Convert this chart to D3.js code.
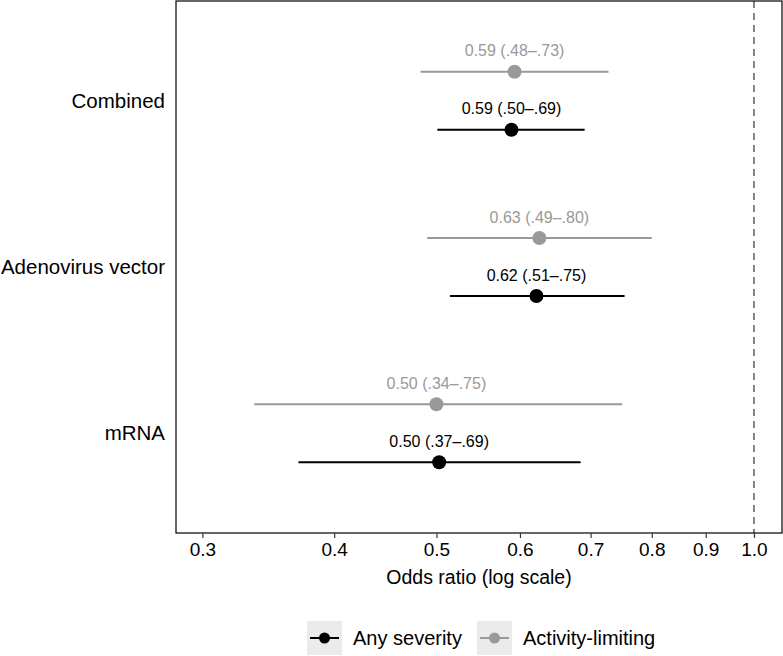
<!DOCTYPE html>
<html><head><meta charset="utf-8">
<script src="https://cdn.jsdelivr.net/npm/d3@7"></script>
<style>
body{margin:0;background:#fff;}
text{font-family:"Liberation Sans",Arial,Helvetica,sans-serif;}
</style></head>
<body><svg id="c" width="783" height="656"></svg>
<script>
const categories = ["Combined", "Adenovirus vector", "mRNA"];
const seriesNames = ["Any severity", "Activity-limiting"];
const seriesColors = ["#000000", "#999999"];
// Any severity
const anyEst = [0.589, 0.622, 0.503];
const anyLow = [0.501, 0.515, 0.37];
const anyHigh = [0.691, 0.754, 0.685];
const anyLabels = ["0.59 (.50\u2013.69)", "0.62 (.51\u2013.75)", "0.50 (.37\u2013.69)"];
// Activity-limiting
const actEst = [0.593, 0.626, 0.50];
const actLow = [0.483, 0.49, 0.336];
const actHigh = [0.728, 0.80, 0.75];
const actLabels = ["0.59 (.48\u2013.73)", "0.63 (.49\u2013.80)", "0.50 (.34\u2013.75)"];
const tickValues = [0.3, 0.4, 0.5, 0.6, 0.7, 0.8, 0.9, 1.0];
const refValue = 1.0;

const svg = d3.select("#c");
const panel = {left: 176, right: 782, top: 1, bottom: 533};

const x = d3.scaleLog().domain([0.2832, 1.0631]).range([panel.left, panel.right]);
const y = d3.scalePoint().domain(categories).range([panel.top, panel.bottom]).padding(0.6);
const offset = 29;

// reference line
svg.append("line")
  .attr("x1", x(refValue)).attr("x2", x(refValue))
  .attr("y1", panel.top).attr("y2", panel.bottom)
  .attr("stroke", "#666").attr("stroke-width", 1.6).attr("stroke-dasharray", "7,5");

const series = [
  {name: seriesNames[1], color: seriesColors[1], est: actEst, low: actLow, high: actHigh, labels: actLabels, dy: -offset},
  {name: seriesNames[0], color: seriesColors[0], est: anyEst, low: anyLow, high: anyHigh, labels: anyLabels, dy: offset}
];

series.forEach(s => {
  const g = svg.append("g");
  categories.forEach((c, i) => {
    const cy = y(c) + s.dy;
    g.append("line").attr("x1", x(s.low[i])).attr("x2", x(s.high[i]))
      .attr("y1", cy).attr("y2", cy).attr("stroke", s.color).attr("stroke-width", 2);
    g.append("circle").attr("cx", x(s.est[i])).attr("cy", cy).attr("r", 7).attr("fill", s.color);
    g.append("text").attr("x", x(s.est[i])).attr("y", cy - 21).attr("dy", "0.35em")
      .attr("text-anchor", "middle").attr("font-size", 16).attr("fill", s.color).text(s.labels[i]);
  });
});

// panel border
svg.append("rect").attr("x", panel.left).attr("y", panel.top)
  .attr("width", panel.right - panel.left).attr("height", panel.bottom - panel.top)
  .attr("fill", "none").attr("stroke", "#000").attr("stroke-width", 1.2);

// x axis
const xAxis = d3.axisBottom(x).tickValues(tickValues).tickFormat(d3.format(".1f")).tickSize(5).tickPadding(5);
const gx = svg.append("g").attr("transform", `translate(0,${panel.bottom})`).call(xAxis);
gx.select(".domain").remove();
gx.selectAll(".tick line").attr("stroke", "#333").attr("stroke-width", 1.2);
gx.selectAll(".tick text").attr("font-size", 19).attr("fill", "#000").attr("font-family", "Liberation Sans, Arial, sans-serif");

// y labels
const yAxis = d3.axisLeft(y).tickSize(0).tickPadding(11);
const gy = svg.append("g").attr("transform", `translate(${panel.left},0)`).call(yAxis);
gy.select(".domain").remove();
gy.selectAll(".tick text").attr("font-size", 20.5).attr("fill", "#000").attr("font-family", "Liberation Sans, Arial, sans-serif");

// x title
svg.append("text").attr("x", (panel.left + panel.right) / 2).attr("y", 577).attr("dy", "0.35em")
  .attr("text-anchor", "middle").attr("font-size", 19.5).text("Odds ratio (log scale)");

// legend
const legendItems = [
  {name: seriesNames[0], color: seriesColors[0], x: 307},
  {name: seriesNames[1], color: seriesColors[1], x: 477}
];
const lg = svg.append("g");
legendItems.forEach(it => {
  lg.append("rect").attr("x", it.x).attr("y", 621).attr("width", 35).attr("height", 34).attr("fill", "#ebebeb");
  lg.append("line").attr("x1", it.x + 3).attr("x2", it.x + 32).attr("y1", 638).attr("y2", 638)
    .attr("stroke", it.color).attr("stroke-width", 2);
  lg.append("circle").attr("cx", it.x + 17.5).attr("cy", 638).attr("r", 5.5).attr("fill", it.color);
  lg.append("text").attr("x", it.x + 46).attr("y", 638).attr("dy", "0.35em").attr("font-size", 20).text(it.name);
});
</script></body></html>
